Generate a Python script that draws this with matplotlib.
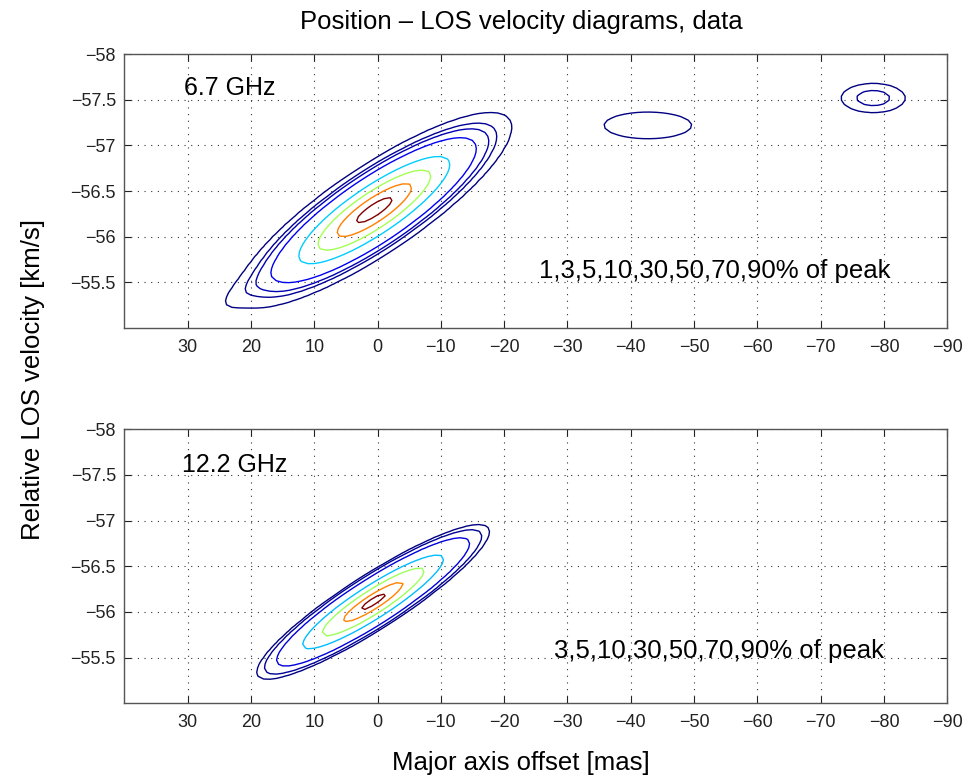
import numpy as np
import matplotlib
matplotlib.use("Agg")
import matplotlib.pyplot as plt
from matplotlib.ticker import FuncFormatter, FixedLocator

plt.rcParams['font.family'] = ['Liberation Sans', 'DejaVu Sans']

# ---- data -------------------------------------------------------------
title = "Position \u2013 LOS velocity diagrams, data"
xlabel = "Major axis offset [mas]"
ylabel = "Relative LOS velocity [km/s]"

x_ticks = [30, 20, 10, 0, -10, -20, -30, -40, -50, -60, -70, -80, -90]
y_ticks = [-58, -57.5, -57, -56.5, -56, -55.5]

bands = ["6.7 GHz", "12.2 GHz"]
levels_pct_67 = [1, 3, 5, 10, 30, 50, 70, 90]
levels_pct_122 = [3, 5, 10, 30, 50, 70, 90]

# emission components: offset x0 [mas], velocity v0 [km/s], drift dv/dx,
# amplitude, width along offset [mas], width in velocity [km/s],
# radial profile exponent
comp_x0_67 = [0.5, 0.5, 20.0, -42.7, -78.3]
comp_v0_67 = [-56.29, -56.29, -55.45, -57.22, -57.52]
comp_slope_67 = [0.042, 0.042, 0.042, 0.0, 0.0]
comp_amp_67 = [0.8, 0.2, 0.012, 0.018, 0.045]
comp_wx_67 = [12.0, 4.0, 5.0, 9.0, 4.1]
comp_wv_67 = [0.312, 0.104, 0.14, 0.19, 0.13]
comp_p_67 = [2.5, 2.0, 2.0, 2.0, 2.0]

comp_x0_122 = [0.7, 0.7]
comp_v0_122 = [-56.11, -56.11]
comp_slope_122 = [0.042, 0.042]
comp_amp_122 = [0.75, 0.25]
comp_wx_122 = [11.5, 3.0]
comp_wv_122 = [0.2185, 0.057]
comp_p_122 = [2.5, 2.0]


def brightness(X, V, x0s, v0s, slopes, amps, wxs, wvs, ps):
    Z = np.zeros_like(X)
    for x0, v0, k, a, wx, wv, p in zip(x0s, v0s, slopes, amps, wxs, wvs, ps):
        u = X - x0
        dv = V - v0 - k * u
        rho = np.sqrt((u / wx) ** 2 + (dv / wv) ** 2)
        Z += a * np.exp(-rho ** p)
    return Z


xg = np.arange(-95.0, 45.0, 1.0)
vg = np.arange(-58.2, -54.8, 0.044)
X, V = np.meshgrid(xg, vg)

fields = [
    brightness(X, V, comp_x0_67, comp_v0_67, comp_slope_67, comp_amp_67,
               comp_wx_67, comp_wv_67, comp_p_67),
    brightness(X, V, comp_x0_122, comp_v0_122, comp_slope_122, comp_amp_122,
               comp_wx_122, comp_wv_122, comp_p_122),
]
level_sets = [levels_pct_67, levels_pct_122]

W, H = 977, 780
fig = plt.figure(figsize=(W / 100, H / 100), dpi=100)

axes_px = [(124.3, 54.3, 947.3, 327.7), (124.3, 429.3, 947.3, 703.3)]
label_pos = [(30.5, -57.63), (30.9, -57.61)]
note_pos = [(-81.0, -55.62), (-80.0, -55.575)]


def fmt(v, pos):
    s = "%g" % v
    return s.replace("-", "\u2212")


for i, (l, t, r, b) in enumerate(axes_px):
    ax = fig.add_axes([l / W, 1 - b / H, (r - l) / W, (b - t) / H])
    Z = fields[i]
    peak = Z.max()
    lv = [p / 100.0 * peak for p in level_sets[i]]
    ax.contour(X, V, Z, levels=lv, cmap='jet', linewidths=1.0)

    ax.set_xlim(40, -90)
    ax.set_ylim(-55, -58)
    ax.xaxis.set_major_locator(FixedLocator(x_ticks))
    ax.yaxis.set_major_locator(FixedLocator(y_ticks))
    ax.xaxis.set_major_formatter(FuncFormatter(fmt))
    ax.yaxis.set_major_formatter(FuncFormatter(fmt))
    ax.tick_params(direction='in', length=5, width=0.8, top=True, right=True,
                   labelsize=13, colors='#222222')
    ax.tick_params(axis='x', pad=8)
    ax.tick_params(axis='y', pad=6)
    ax.grid(True, color='#333333', linestyle=(0, (1, 5)), linewidth=0.8)
    for sp in ax.spines.values():
        sp.set_color('#555555')
        sp.set_linewidth(1.0)

    ax.text(label_pos[i][0], label_pos[i][1], bands[i], fontsize=18,
            ha='left', va='center')
    pct = ",".join(str(p) for p in level_sets[i]) + "% of peak"
    ax.text(note_pos[i][0], note_pos[i][1], pct, fontsize=18.5,
            ha='right', va='center')

fig.text(521 / W, 1 - 22 / H, title, fontsize=18.5, ha='center', va='center')
fig.text(521 / W, 1 - 763 / H, xlabel, fontsize=18.5, ha='center', va='center')
fig.text(33 / W, 1 - 380 / H, ylabel, fontsize=18.5, ha='center', va='center',
         rotation=90)

fig.savefig("out.png", dpi=100, facecolor='white')
